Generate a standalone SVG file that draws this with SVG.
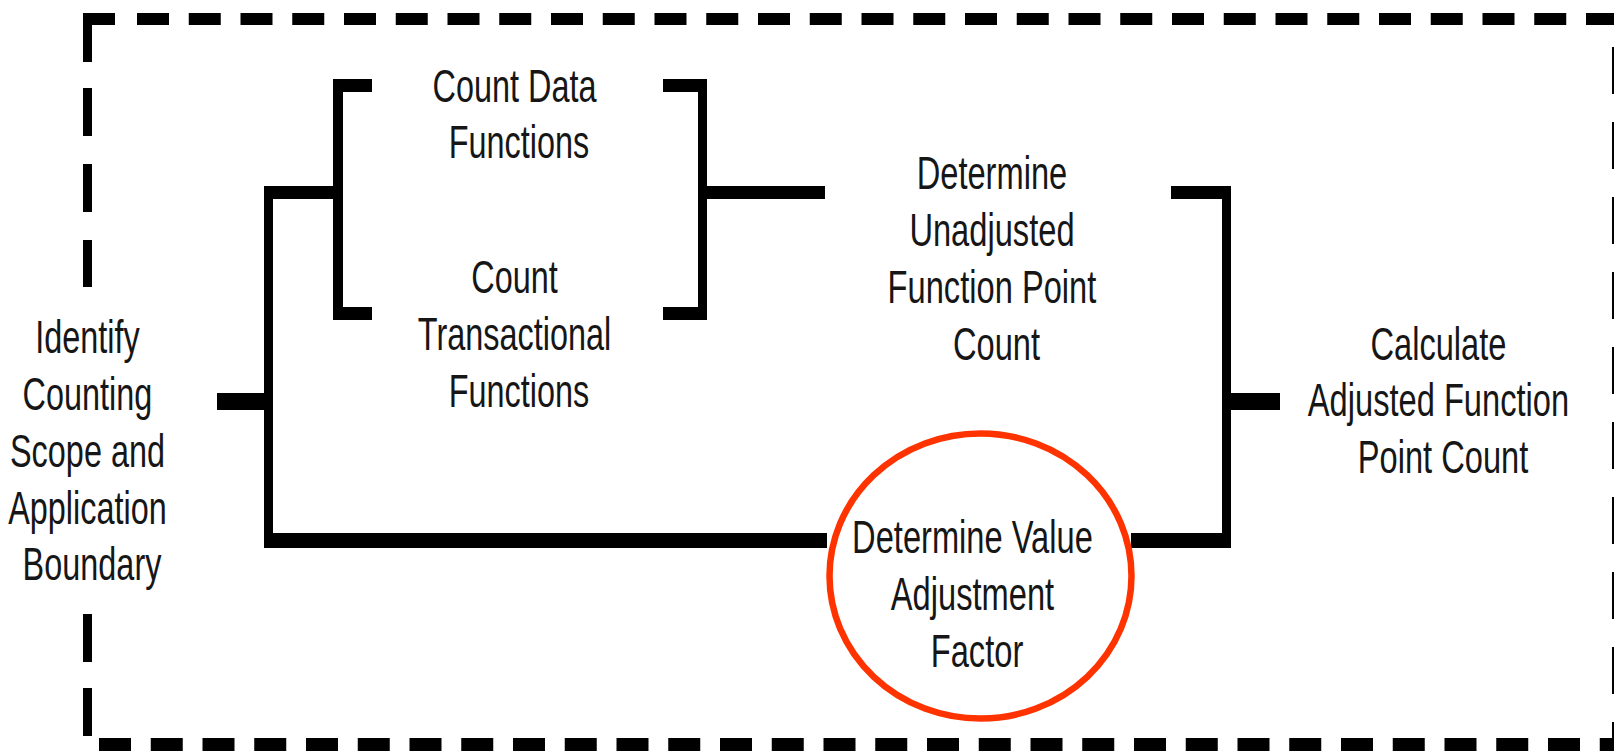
<svg xmlns="http://www.w3.org/2000/svg" width="1614" height="751" viewBox="0 0 1614 751">
  <defs>
    <style>
      .lbl { font-family: "Liberation Sans", Arial, sans-serif; font-size: 46px; fill: #161616; text-anchor: middle; }
      .wire { fill: #000; }
      .frame-h { stroke: #000; fill: none; stroke-dasharray: 32 19.75; }
      .frame-v { stroke: #000; fill: none; stroke-width: 9; stroke-dasharray: 47 28; }
      .focus { fill: none; stroke: #FF3300; stroke-width: 6.5; }
    </style>
  </defs>

  <rect width="1614" height="751" fill="#fff"/>

  <!-- dashed boundary around the whole process (left side opens around the first label) -->
  <g id="boundary">
    <rect x="83" y="13" width="32" height="12" fill="#000"/>
    <rect x="83" y="13" width="9" height="49" fill="#000"/>
    <line class="frame-h" x1="137" y1="19" x2="1640" y2="19" stroke-width="12"/>
    <line class="frame-h" x1="99" y1="744.5" x2="1640" y2="744.5" stroke-width="13"/>
    <line class="frame-v" x1="87.5" y1="88" x2="87.5" y2="287" style="stroke-dasharray: 48 28"/>
    <line class="frame-v" x1="87.5" y1="614" x2="87.5" y2="736" style="stroke-dasharray: 48 26"/>
    <line class="frame-v" x1="1616.5" y1="47" x2="1616.5" y2="751"/>
  </g>

  <!-- connector lines (thick bars) -->
  <g id="connectors">
    <!-- stub from first step into trunk -->
    <rect class="wire" x="217" y="393" width="52" height="17"/>
    <!-- trunk -->
    <rect class="wire" x="264" y="186" width="9" height="362"/>
    <!-- trunk to data/transactional bracket -->
    <rect class="wire" x="264" y="186" width="79" height="13"/>
    <!-- left bracket -->
    <rect class="wire" x="333" y="79" width="10" height="241"/>
    <rect class="wire" x="333" y="79" width="39" height="13"/>
    <rect class="wire" x="333" y="307" width="39" height="13"/>
    <!-- right bracket -->
    <rect class="wire" x="698" y="79" width="9" height="241"/>
    <rect class="wire" x="663" y="79" width="44" height="13"/>
    <rect class="wire" x="663" y="307" width="44" height="13"/>
    <!-- bracket to unadjusted count -->
    <rect class="wire" x="707" y="186" width="118" height="13"/>
    <!-- trunk to value adjustment factor -->
    <rect class="wire" x="264" y="533" width="563" height="15"/>
    <!-- closing bracket into final calculation -->
    <rect class="wire" x="1171" y="186" width="60" height="13"/>
    <rect class="wire" x="1222" y="186" width="9" height="362"/>
    <rect class="wire" x="1131" y="533" width="100" height="15"/>
    <rect class="wire" x="1231" y="393" width="49" height="17"/>
  </g>

  <g id="identify-scope">
    <text class="lbl" transform="translate(92 0) scale(0.705 1)">
      <tspan x="0" y="353">Identify</tspan>
      <tspan x="0" y="410">Counting</tspan>
      <tspan x="0" y="467">Scope and</tspan>
      <tspan x="0" y="524">Application</tspan>
      <tspan x="0" y="580">Boundary</tspan>
    </text>
  </g>

  <g id="count-data">
    <text class="lbl" transform="translate(519 0) scale(0.705 1)">
      <tspan x="0" y="102">Count Data</tspan>
      <tspan x="0" y="158">Functions</tspan>
    </text>
  </g>

  <g id="count-transactional">
    <text class="lbl" transform="translate(519 0) scale(0.705 1)">
      <tspan x="0" y="293">Count</tspan>
      <tspan x="0" y="350">Transactional</tspan>
      <tspan x="0" y="407">Functions</tspan>
    </text>
  </g>

  <g id="unadjusted-count">
    <text class="lbl" transform="translate(996.5 0) scale(0.71 1)">
      <tspan x="0" y="189">Determine</tspan>
      <tspan x="0" y="246">Unadjusted</tspan>
      <tspan x="0" y="303">Function Point</tspan>
      <tspan x="0" y="360">Count</tspan>
    </text>
  </g>

  <g id="value-adjustment">
    <ellipse class="focus" cx="980.5" cy="576" rx="151" ry="142.5"/>
    <text class="lbl" transform="translate(977 0) scale(0.71 1)">
      <tspan x="0" y="553">Determine Value</tspan>
      <tspan x="0" y="610">Adjustment</tspan>
      <tspan x="0" y="667">Factor</tspan>
    </text>
  </g>

  <g id="adjusted-count">
    <text class="lbl" transform="translate(1443 0) scale(0.71 1)">
      <tspan x="0" y="360">Calculate</tspan>
      <tspan x="0" y="416">Adjusted Function</tspan>
      <tspan x="0" y="473">Point Count</tspan>
    </text>
  </g>
</svg>
